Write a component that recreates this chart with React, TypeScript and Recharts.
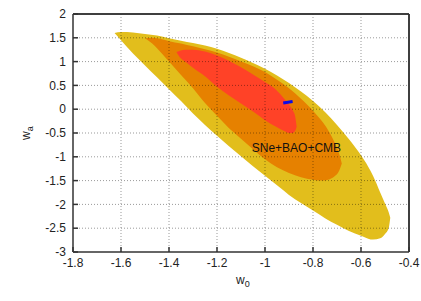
import React from "react";
import { ComposedChart, Area, Line, XAxis, YAxis, ReferenceLine, ReferenceDot } from "recharts";

const xTicks = [-1.8, -1.6, -1.4, -1.2, -1, -0.8, -0.6, -0.4];
const yTicks = [-3, -2.5, -2, -1.5, -1, -0.5, 0, 0.5, 1, 1.5, 2];

// outer contour (yellow)
const yellowW0 = [-1.627, -1.6, -1.55, -1.5, -1.45, -1.4, -1.35, -1.3, -1.25, -1.2, -1.15, -1.1, -1.05, -1.0, -0.95, -0.9, -0.85, -0.8, -0.75, -0.7, -0.65, -0.6, -0.57, -0.55, -0.52, -0.5, -0.485, -0.478];
const yellowLow = [1.6, 1.45, 1.17, 0.92, 0.67, 0.42, 0.17, -0.09, -0.33, -0.56, -0.78, -0.99, -1.2, -1.4, -1.6, -1.8, -1.97, -2.13, -2.29, -2.43, -2.56, -2.66, -2.72, -2.74, -2.71, -2.62, -2.5, -2.28];
const yellowHigh = [1.6, 1.62, 1.61, 1.58, 1.55, 1.49, 1.44, 1.39, 1.34, 1.27, 1.18, 1.08, 0.97, 0.85, 0.71, 0.55, 0.37, 0.17, -0.06, -0.33, -0.63, -0.97, -1.21, -1.4, -1.75, -1.98, -2.16, -2.28];

// middle contour (orange)
const orangeW0 = [-1.5, -1.47, -1.45, -1.4, -1.35, -1.3, -1.25, -1.2, -1.15, -1.1, -1.05, -1.0, -0.95, -0.9, -0.85, -0.8, -0.76, -0.73, -0.71, -0.69, -0.68];
const orangeLow = [1.49, 1.38, 1.28, 1.0, 0.72, 0.44, 0.13, -0.14, -0.4, -0.62, -0.84, -1.05, -1.22, -1.34, -1.43, -1.48, -1.5, -1.47, -1.41, -1.28, -1.14];
const orangeHigh = [1.49, 1.5, 1.49, 1.43, 1.38, 1.32, 1.26, 1.19, 1.1, 1.0, 0.9, 0.78, 0.62, 0.44, 0.22, -0.03, -0.27, -0.5, -0.7, -0.95, -1.14];

// inner contour (red)
const redW0 = [-1.369, -1.355, -1.33, -1.3, -1.25, -1.2, -1.15, -1.1, -1.05, -1.0, -0.95, -0.92, -0.9, -0.885, -0.875, -0.868];
const redLow = [1.2, 1.09, 0.99, 0.87, 0.69, 0.47, 0.29, 0.12, -0.05, -0.23, -0.38, -0.46, -0.5, -0.5, -0.46, -0.37];
const redHigh = [1.2, 1.23, 1.25, 1.25, 1.21, 1.13, 1.02, 0.88, 0.73, 0.57, 0.39, 0.22, 0.1, -0.02, -0.13, -0.37];

const fitW0 = [-0.924, -0.885];
const fitWa = [0.13, 0.16];

const toRange = (w0: number[], lo: number[], hi: number[]) =>
  w0.map((x, i) => ({ x, range: [lo[i], hi[i]] }));

const yellowData = toRange(yellowW0, yellowLow, yellowHigh);
const orangeData = toRange(orangeW0, orangeLow, orangeHigh);
const redData = toRange(redW0, redLow, redHigh);
const fitData = fitW0.map((x, i) => ({ x, wa: fitWa[i] }));

const font = "'Liberation Sans', Arial, Helvetica, sans-serif";
const tickStyle = { fontSize: 12, fill: "#222", fontFamily: font };
const border = { stroke: "#333", strokeWidth: 1.5 };
const gridStroke = "rgba(0,0,0,0.4)";

export default function App() {
  return (
    <div style={{ position: "absolute", left: 0, top: 0, background: "#fff" }}>
      <ComposedChart width={421} height={301} margin={{ top: 13, right: 11, bottom: 19, left: 13 }}>
        <XAxis
          type="number"
          dataKey="x"
          domain={[-1.8, -0.4]}
          ticks={xTicks}
          allowDataOverflow
          height={30}
          tickSize={-5}
          tickMargin={11}
          tick={tickStyle}
          tickLine={border}
          axisLine={border}
        />
        <XAxis
          xAxisId="top"
          orientation="top"
          type="number"
          dataKey="x"
          domain={[-1.8, -0.4]}
          ticks={xTicks}
          allowDataOverflow
          height={1}
          tickSize={-5}
          tick={false}
          tickLine={border}
          axisLine={border}
        />
        <YAxis
          type="number"
          domain={[-3, 2]}
          ticks={yTicks}
          allowDataOverflow
          width={60}
          tickSize={-5}
          tickMargin={12}
          tick={tickStyle}
          tickLine={border}
          axisLine={border}
        />
        <YAxis
          yAxisId="right"
          orientation="right"
          type="number"
          domain={[-3, 2]}
          ticks={yTicks}
          allowDataOverflow
          width={1}
          tickSize={-5}
          tick={false}
          tickLine={border}
          axisLine={border}
        />

        <Area data={yellowData} dataKey="range" type="monotoneX" fill="#e2be1c" fillOpacity={1} stroke="none" isAnimationActive={false} />
        <Area data={orangeData} dataKey="range" type="monotoneX" fill="#e68100" fillOpacity={1} stroke="none" isAnimationActive={false} />
        <Area data={redData} dataKey="range" type="monotoneX" fill="#ff4227" fillOpacity={1} stroke="none" isAnimationActive={false} />

        {xTicks.slice(1, -1).map((t) => (
          <ReferenceLine key={"gx" + t} x={t} stroke={gridStroke} strokeDasharray="1 2" />
        ))}
        {yTicks.slice(1, -1).map((t) => (
          <ReferenceLine key={"gy" + t} y={t} stroke={gridStroke} strokeDasharray="1 2" />
        ))}
        {/* frame: top and right edges */}
        <ReferenceLine y={2} stroke="#333" strokeWidth={1.5} />
        <ReferenceLine x={-0.4} stroke="#333" strokeWidth={1.5} />

        <Line data={fitData} dataKey="wa" stroke="#0b0be8" strokeWidth={3} dot={false} isAnimationActive={false} />
        {/* invisible copy so the mirrored top/right axes get drawn */}
        <Line data={fitData} dataKey="wa" xAxisId="top" yAxisId="right" stroke="none" dot={false} activeDot={false} isAnimationActive={false} />

        <ReferenceDot
          x={-0.869}
          y={-0.81}
          r={0}
          fill="none"
          stroke="none"
          label={{ value: "SNe+BAO+CMB", position: "center", fontSize: 12, fill: "#111", fontFamily: font }}
        />

        <text x={236} y={284} fontSize={12} fill="#222" fontFamily={font}>
          w<tspan dy={3} fontSize={9}>0</tspan>
        </text>
        <text transform="translate(30,140) rotate(-90)" fontSize={12} fill="#222" fontFamily={font}>
          w<tspan dy={3} fontSize={9}>a</tspan>
        </text>
      </ComposedChart>
    </div>
  );
}
